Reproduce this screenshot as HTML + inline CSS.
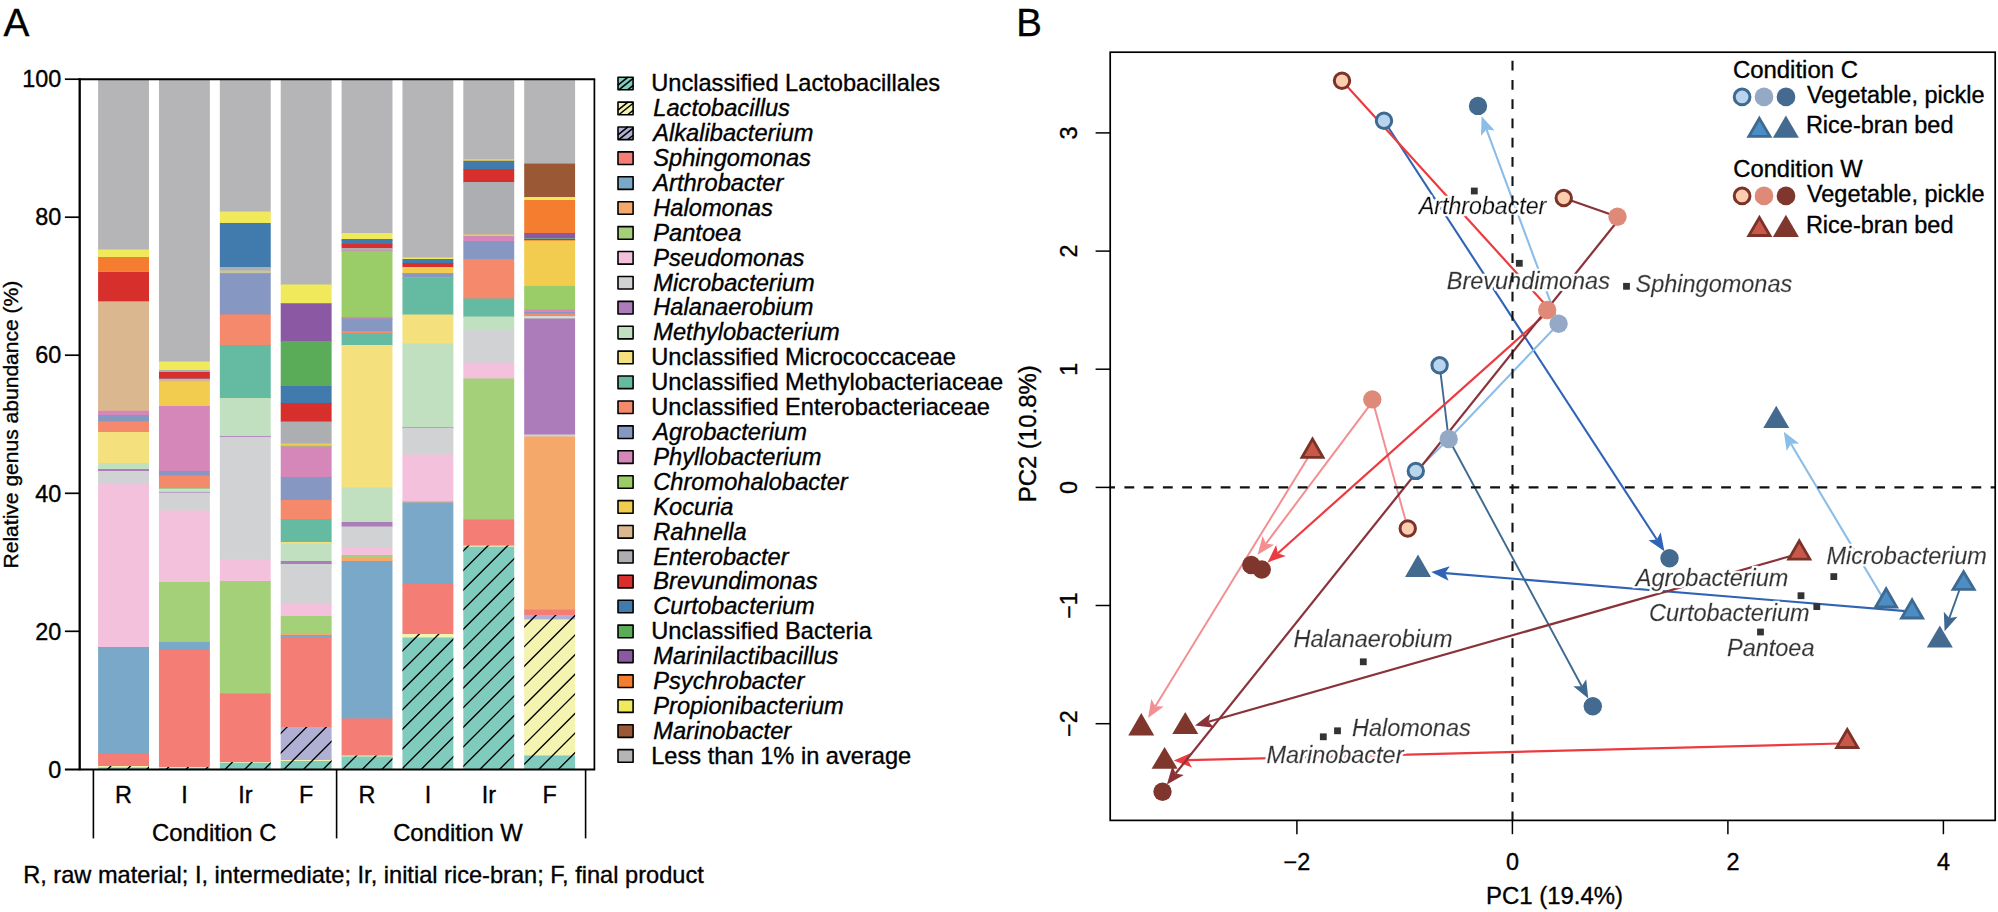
<!DOCTYPE html>
<html lang="en"><head><meta charset="utf-8"><title>Figure</title>
<style>html,body{margin:0;padding:0;background:#fff}svg{display:block}text{font-family:"Liberation Sans",Arial,Helvetica,sans-serif;fill:#000;stroke:#000;stroke-width:.35px}.it{font-style:italic}.gl{stroke-width:.35px;filter:url(#halo)}</style></head><body>
<svg width="1998" height="912" viewBox="0 0 1998 912">
<rect width="1998" height="912" fill="#fff"/>
<g id="panelA">
<text x="3.4" y="35.6" font-size="38.8">A</text>
<g>
<rect x="98.10" y="79.00" width="50.9" height="171.20" fill="#B5B5B7"/>
<rect x="98.10" y="249.50" width="50.9" height="8.20" fill="#F0E95B"/>
<rect x="98.10" y="257.00" width="50.9" height="14.70" fill="#F47D30"/>
<rect x="98.10" y="271.00" width="50.9" height="1.70" fill="#65BAA2"/>
<rect x="98.10" y="272.00" width="50.9" height="30.00" fill="#D72F2C"/>
<rect x="98.10" y="301.30" width="50.9" height="110.20" fill="#DBB790"/>
<rect x="98.10" y="410.80" width="50.9" height="4.90" fill="#D687BA"/>
<rect x="98.10" y="415.00" width="50.9" height="7.20" fill="#8698C2"/>
<rect x="98.10" y="421.50" width="50.9" height="11.20" fill="#F4896B"/>
<rect x="98.10" y="432.00" width="50.9" height="31.70" fill="#F4E07C"/>
<rect x="98.10" y="463.00" width="50.9" height="6.70" fill="#C1E0C0"/>
<rect x="98.10" y="469.00" width="50.9" height="2.70" fill="#AC7CBA"/>
<rect x="98.10" y="471.00" width="50.9" height="12.70" fill="#D1D2D4"/>
<rect x="98.10" y="483.00" width="50.9" height="164.70" fill="#F4C1DC"/>
<rect x="98.10" y="647.00" width="50.9" height="107.70" fill="#7AA8C8"/>
<rect x="98.10" y="754.00" width="50.9" height="12.70" fill="#F47D75"/>
<rect x="98.10" y="766.00" width="50.9" height="2.20" fill="#F5F3B0"/>
<rect x="98.10" y="767.50" width="50.9" height="1.80" fill="#7FCBBD"/>
<rect x="158.97" y="79.00" width="50.9" height="283.20" fill="#B5B5B7"/>
<rect x="158.97" y="361.50" width="50.9" height="9.20" fill="#F0E95B"/>
<rect x="158.97" y="370.00" width="50.9" height="2.70" fill="#ADAEB2"/>
<rect x="158.97" y="372.00" width="50.9" height="7.20" fill="#D72F2C"/>
<rect x="158.97" y="378.50" width="50.9" height="1.40" fill="#8698C2"/>
<rect x="158.97" y="379.20" width="50.9" height="3.00" fill="#DBB790"/>
<rect x="158.97" y="381.50" width="50.9" height="25.20" fill="#F2CC4E"/>
<rect x="158.97" y="406.00" width="50.9" height="65.70" fill="#D687BA"/>
<rect x="158.97" y="471.00" width="50.9" height="5.20" fill="#8698C2"/>
<rect x="158.97" y="475.50" width="50.9" height="13.20" fill="#F4896B"/>
<rect x="158.97" y="488.00" width="50.9" height="1.30" fill="#65BAA2"/>
<rect x="158.97" y="488.60" width="50.9" height="2.10" fill="#F4E07C"/>
<rect x="158.97" y="490.00" width="50.9" height="2.70" fill="#C1E0C0"/>
<rect x="158.97" y="492.00" width="50.9" height="1.30" fill="#AC7CBA"/>
<rect x="158.97" y="492.60" width="50.9" height="18.60" fill="#D1D2D4"/>
<rect x="158.97" y="510.50" width="50.9" height="72.20" fill="#F4C1DC"/>
<rect x="158.97" y="582.00" width="50.9" height="59.70" fill="#A4D07A"/>
<rect x="158.97" y="641.00" width="50.9" height="1.70" fill="#F4A96B"/>
<rect x="158.97" y="642.00" width="50.9" height="8.70" fill="#7AA8C8"/>
<rect x="158.97" y="650.00" width="50.9" height="117.70" fill="#F47D75"/>
<rect x="158.97" y="767.00" width="50.9" height="1.50" fill="#F5F3B0"/>
<rect x="158.97" y="767.80" width="50.9" height="1.50" fill="#7FCBBD"/>
<rect x="219.84" y="79.00" width="50.9" height="133.20" fill="#B5B5B7"/>
<rect x="219.84" y="211.50" width="50.9" height="12.20" fill="#F0E95B"/>
<rect x="219.84" y="223.00" width="50.9" height="44.70" fill="#417BAD"/>
<rect x="219.84" y="267.00" width="50.9" height="4.20" fill="#ADAEB2"/>
<rect x="219.84" y="270.50" width="50.9" height="3.20" fill="#C8C6A0"/>
<rect x="219.84" y="273.00" width="50.9" height="1.30" fill="#D687BA"/>
<rect x="219.84" y="273.60" width="50.9" height="41.50" fill="#8698C2"/>
<rect x="219.84" y="314.40" width="50.9" height="31.30" fill="#F4896B"/>
<rect x="219.84" y="345.00" width="50.9" height="53.70" fill="#65BAA2"/>
<rect x="219.84" y="398.00" width="50.9" height="38.70" fill="#C1E0C0"/>
<rect x="219.84" y="436.00" width="50.9" height="1.50" fill="#AC7CBA"/>
<rect x="219.84" y="436.80" width="50.9" height="122.90" fill="#D1D2D4"/>
<rect x="219.84" y="559.00" width="50.9" height="22.70" fill="#F4C1DC"/>
<rect x="219.84" y="581.00" width="50.9" height="113.20" fill="#A4D07A"/>
<rect x="219.84" y="693.50" width="50.9" height="69.20" fill="#F47D75"/>
<rect x="219.84" y="762.00" width="50.9" height="1.40" fill="#F5F3B0"/>
<rect x="219.84" y="762.70" width="50.9" height="6.60" fill="#7FCBBD"/>
<rect x="280.71" y="79.00" width="50.9" height="206.20" fill="#B5B5B7"/>
<rect x="280.71" y="284.50" width="50.9" height="19.20" fill="#F0E95B"/>
<rect x="280.71" y="303.00" width="50.9" height="1.40" fill="#F47D30"/>
<rect x="280.71" y="303.70" width="50.9" height="38.00" fill="#8B58A4"/>
<rect x="280.71" y="341.00" width="50.9" height="45.70" fill="#5BAC58"/>
<rect x="280.71" y="386.00" width="50.9" height="17.70" fill="#417BAD"/>
<rect x="280.71" y="403.00" width="50.9" height="19.20" fill="#D72F2C"/>
<rect x="280.71" y="421.50" width="50.9" height="22.70" fill="#ADAEB2"/>
<rect x="280.71" y="443.50" width="50.9" height="2.70" fill="#F2CC4E"/>
<rect x="280.71" y="445.50" width="50.9" height="1.70" fill="#9ACD68"/>
<rect x="280.71" y="446.50" width="50.9" height="31.20" fill="#D687BA"/>
<rect x="280.71" y="477.00" width="50.9" height="23.70" fill="#8698C2"/>
<rect x="280.71" y="500.00" width="50.9" height="19.70" fill="#F4896B"/>
<rect x="280.71" y="519.00" width="50.9" height="23.70" fill="#65BAA2"/>
<rect x="280.71" y="542.00" width="50.9" height="2.20" fill="#F4E07C"/>
<rect x="280.71" y="543.50" width="50.9" height="18.20" fill="#C1E0C0"/>
<rect x="280.71" y="561.00" width="50.9" height="3.70" fill="#AC7CBA"/>
<rect x="280.71" y="564.00" width="50.9" height="40.20" fill="#D1D2D4"/>
<rect x="280.71" y="603.50" width="50.9" height="13.20" fill="#F4C1DC"/>
<rect x="280.71" y="616.00" width="50.9" height="18.20" fill="#A4D07A"/>
<rect x="280.71" y="633.50" width="50.9" height="2.20" fill="#F4A96B"/>
<rect x="280.71" y="635.00" width="50.9" height="2.70" fill="#7AA8C8"/>
<rect x="280.71" y="637.00" width="50.9" height="90.70" fill="#F47D75"/>
<rect x="280.71" y="727.00" width="50.9" height="33.70" fill="#B0B0D5"/>
<rect x="280.71" y="760.00" width="50.9" height="1.70" fill="#F5F3B0"/>
<rect x="280.71" y="761.00" width="50.9" height="8.30" fill="#7FCBBD"/>
<rect x="341.58" y="79.00" width="50.9" height="154.70" fill="#B5B5B7"/>
<rect x="341.58" y="233.00" width="50.9" height="6.70" fill="#F0E95B"/>
<rect x="341.58" y="239.00" width="50.9" height="1.70" fill="#8B58A4"/>
<rect x="341.58" y="240.00" width="50.9" height="4.70" fill="#417BAD"/>
<rect x="341.58" y="244.00" width="50.9" height="4.70" fill="#D72F2C"/>
<rect x="341.58" y="248.00" width="50.9" height="3.00" fill="#ADAEB2"/>
<rect x="341.58" y="250.30" width="50.9" height="1.30" fill="#D687BA"/>
<rect x="341.58" y="250.90" width="50.9" height="66.80" fill="#9ACD68"/>
<rect x="341.58" y="317.00" width="50.9" height="2.20" fill="#D687BA"/>
<rect x="341.58" y="318.50" width="50.9" height="13.20" fill="#8698C2"/>
<rect x="341.58" y="331.00" width="50.9" height="2.70" fill="#F4896B"/>
<rect x="341.58" y="333.00" width="50.9" height="12.70" fill="#65BAA2"/>
<rect x="341.58" y="345.00" width="50.9" height="143.20" fill="#F4E07C"/>
<rect x="341.58" y="487.50" width="50.9" height="35.20" fill="#C1E0C0"/>
<rect x="341.58" y="522.00" width="50.9" height="5.20" fill="#AC7CBA"/>
<rect x="341.58" y="526.50" width="50.9" height="21.70" fill="#D1D2D4"/>
<rect x="341.58" y="547.50" width="50.9" height="8.20" fill="#F4C1DC"/>
<rect x="341.58" y="555.00" width="50.9" height="2.70" fill="#A4D07A"/>
<rect x="341.58" y="557.00" width="50.9" height="4.70" fill="#F4A96B"/>
<rect x="341.58" y="561.00" width="50.9" height="158.20" fill="#7AA8C8"/>
<rect x="341.58" y="718.50" width="50.9" height="37.70" fill="#F47D75"/>
<rect x="341.58" y="755.50" width="50.9" height="1.70" fill="#F5F3B0"/>
<rect x="341.58" y="756.50" width="50.9" height="12.80" fill="#7FCBBD"/>
<rect x="402.45" y="79.00" width="50.9" height="179.20" fill="#B5B5B7"/>
<rect x="402.45" y="257.50" width="50.9" height="2.20" fill="#F0E95B"/>
<rect x="402.45" y="259.00" width="50.9" height="4.70" fill="#417BAD"/>
<rect x="402.45" y="263.00" width="50.9" height="4.70" fill="#D72F2C"/>
<rect x="402.45" y="267.00" width="50.9" height="6.70" fill="#F2CC4E"/>
<rect x="402.45" y="273.00" width="50.9" height="1.30" fill="#D687BA"/>
<rect x="402.45" y="273.60" width="50.9" height="4.10" fill="#8698C2"/>
<rect x="402.45" y="277.00" width="50.9" height="1.70" fill="#F4896B"/>
<rect x="402.45" y="278.00" width="50.9" height="37.20" fill="#65BAA2"/>
<rect x="402.45" y="314.50" width="50.9" height="29.70" fill="#F4E07C"/>
<rect x="402.45" y="343.50" width="50.9" height="84.20" fill="#C1E0C0"/>
<rect x="402.45" y="427.00" width="50.9" height="1.30" fill="#AC7CBA"/>
<rect x="402.45" y="427.60" width="50.9" height="27.60" fill="#D1D2D4"/>
<rect x="402.45" y="454.50" width="50.9" height="47.20" fill="#F4C1DC"/>
<rect x="402.45" y="501.00" width="50.9" height="2.20" fill="#DBB790"/>
<rect x="402.45" y="502.50" width="50.9" height="82.20" fill="#7AA8C8"/>
<rect x="402.45" y="584.00" width="50.9" height="50.70" fill="#F47D75"/>
<rect x="402.45" y="634.00" width="50.9" height="4.20" fill="#F5F3B0"/>
<rect x="402.45" y="637.50" width="50.9" height="131.80" fill="#7FCBBD"/>
<rect x="463.32" y="79.00" width="50.9" height="80.70" fill="#B5B5B7"/>
<rect x="463.32" y="159.00" width="50.9" height="2.50" fill="#F2CC4E"/>
<rect x="463.32" y="160.80" width="50.9" height="8.90" fill="#417BAD"/>
<rect x="463.32" y="169.00" width="50.9" height="13.70" fill="#D72F2C"/>
<rect x="463.32" y="182.00" width="50.9" height="53.20" fill="#ADAEB2"/>
<rect x="463.32" y="234.50" width="50.9" height="2.20" fill="#F2CC4E"/>
<rect x="463.32" y="236.00" width="50.9" height="5.70" fill="#D687BA"/>
<rect x="463.32" y="241.00" width="50.9" height="18.70" fill="#8698C2"/>
<rect x="463.32" y="259.00" width="50.9" height="40.20" fill="#F4896B"/>
<rect x="463.32" y="298.50" width="50.9" height="18.70" fill="#65BAA2"/>
<rect x="463.32" y="316.50" width="50.9" height="13.70" fill="#C1E0C0"/>
<rect x="463.32" y="329.50" width="50.9" height="33.70" fill="#D1D2D4"/>
<rect x="463.32" y="362.50" width="50.9" height="16.70" fill="#F4C1DC"/>
<rect x="463.32" y="378.50" width="50.9" height="141.70" fill="#A4D07A"/>
<rect x="463.32" y="519.50" width="50.9" height="26.80" fill="#F47D75"/>
<rect x="463.32" y="545.60" width="50.9" height="1.80" fill="#F5F3B0"/>
<rect x="463.32" y="546.70" width="50.9" height="222.60" fill="#7FCBBD"/>
<rect x="524.19" y="79.00" width="50.9" height="85.30" fill="#B5B5B7"/>
<rect x="524.19" y="163.60" width="50.9" height="34.10" fill="#9A5834"/>
<rect x="524.19" y="197.00" width="50.9" height="3.70" fill="#F0E95B"/>
<rect x="524.19" y="200.00" width="50.9" height="33.70" fill="#F47D30"/>
<rect x="524.19" y="233.00" width="50.9" height="5.70" fill="#8B58A4"/>
<rect x="524.19" y="238.00" width="50.9" height="1.50" fill="#65BAA2"/>
<rect x="524.19" y="238.80" width="50.9" height="2.20" fill="#D72F2C"/>
<rect x="524.19" y="240.30" width="50.9" height="46.40" fill="#F2CC4E"/>
<rect x="524.19" y="286.00" width="50.9" height="24.20" fill="#9ACD68"/>
<rect x="524.19" y="309.50" width="50.9" height="3.20" fill="#D687BA"/>
<rect x="524.19" y="312.00" width="50.9" height="2.20" fill="#8698C2"/>
<rect x="524.19" y="313.50" width="50.9" height="3.20" fill="#F4896B"/>
<rect x="524.19" y="316.00" width="50.9" height="1.70" fill="#D1D2D4"/>
<rect x="524.19" y="317.00" width="50.9" height="1.70" fill="#F4E07C"/>
<rect x="524.19" y="318.00" width="50.9" height="1.20" fill="#C1E0C0"/>
<rect x="524.19" y="318.50" width="50.9" height="116.70" fill="#AC7CBA"/>
<rect x="524.19" y="434.50" width="50.9" height="2.70" fill="#D1D2D4"/>
<rect x="524.19" y="436.50" width="50.9" height="173.20" fill="#F4A96B"/>
<rect x="524.19" y="609.00" width="50.9" height="1.70" fill="#ADAEB2"/>
<rect x="524.19" y="610.00" width="50.9" height="5.70" fill="#F47D75"/>
<rect x="524.19" y="615.00" width="50.9" height="5.10" fill="#B0B0D5"/>
<rect x="524.19" y="619.40" width="50.9" height="136.80" fill="#F5F3B0"/>
<rect x="524.19" y="755.50" width="50.9" height="13.80" fill="#7FCBBD"/>
</g>
<defs><clipPath id="hc">
<rect x="98.10" y="766.00" width="50.9" height="1.50"/>
<rect x="98.10" y="767.50" width="50.9" height="1.80"/>
<rect x="158.97" y="767.00" width="50.9" height="0.80"/>
<rect x="158.97" y="767.80" width="50.9" height="1.50"/>
<rect x="219.84" y="762.00" width="50.9" height="0.70"/>
<rect x="219.84" y="762.70" width="50.9" height="6.60"/>
<rect x="280.71" y="727.00" width="50.9" height="33.00"/>
<rect x="280.71" y="760.00" width="50.9" height="1.00"/>
<rect x="280.71" y="761.00" width="50.9" height="8.30"/>
<rect x="341.58" y="755.50" width="50.9" height="1.00"/>
<rect x="341.58" y="756.50" width="50.9" height="12.80"/>
<rect x="402.45" y="634.00" width="50.9" height="3.50"/>
<rect x="402.45" y="637.50" width="50.9" height="131.80"/>
<rect x="463.32" y="545.60" width="50.9" height="1.10"/>
<rect x="463.32" y="546.70" width="50.9" height="222.60"/>
<rect x="524.19" y="615.00" width="50.9" height="4.40"/>
<rect x="524.19" y="619.40" width="50.9" height="136.10"/>
<rect x="524.19" y="755.50" width="50.9" height="13.80"/>
</clipPath></defs>
<g clip-path="url(#hc)" stroke="#000" stroke-width="1.35" fill="none">
<path d="M57.7 780L337.7 500M77.3 780L357.3 500M96.9 780L376.9 500M116.5 780L396.5 500M136.1 780L416.1 500M155.7 780L435.7 500M175.3 780L455.3 500M194.9 780L474.9 500M214.5 780L494.5 500M234.1 780L514.1 500M253.7 780L533.7 500M273.3 780L553.3 500M292.9 780L572.9 500M312.5 780L592.5 500M332.1 780L612.1 500M351.7 780L631.7 500M371.3 780L651.3 500M390.9 780L670.9 500M410.5 780L690.5 500M430.1 780L710.1 500M449.7 780L729.7 500M469.3 780L749.3 500M488.9 780L768.9 500M508.5 780L788.5 500M528.1 780L808.1 500M547.7 780L827.7 500M567.3 780L847.3 500M586.9 780L866.9 500M606.5 780L886.5 500M626.1 780L906.1 500M645.7 780L925.7 500M665.3 780L945.3 500"/>
</g>
<g stroke="#000" fill="none" stroke-linecap="butt">
<path d="M79.7 770.3V78.3" stroke-width="2.3"/>
<path d="M78.6 79.2H595.2" stroke-width="1.9"/>
<path d="M594.4 79.2V769.3" stroke-width="1.7"/>
<path d="M64.9 769.4H595.2" stroke-width="2"/>
<path d="M64.9 79.2H79.6" stroke-width="1.7"/>
<path d="M64.9 217.2H79.6" stroke-width="1.7"/>
<path d="M64.9 355.2H79.6" stroke-width="1.7"/>
<path d="M64.9 493.3H79.6" stroke-width="1.7"/>
<path d="M64.9 631.3H79.6" stroke-width="1.7"/>
<path d="M93.4 769.3V838.4" stroke-width="1.6"/>
<path d="M336.6 769.3V838.4" stroke-width="1.6"/>
<path d="M585.6 769.3V838.4" stroke-width="1.6"/>
</g>
<text x="61.3" y="86.9" font-size="23.4" text-anchor="end">100</text>
<text x="61.3" y="225.2" font-size="23.4" text-anchor="end">80</text>
<text x="61.3" y="363.4" font-size="23.4" text-anchor="end">60</text>
<text x="61.3" y="501.7" font-size="23.4" text-anchor="end">40</text>
<text x="61.3" y="639.9" font-size="23.4" text-anchor="end">20</text>
<text x="61.3" y="778.2" font-size="23.4" text-anchor="end">0</text>
<text transform="translate(18.2 424.6) rotate(-90)" font-size="21.05" text-anchor="middle">Relative genus abundance (%)</text>
<text x="123.5" y="803.1" font-size="23.4" text-anchor="middle">R</text>
<text x="184.4" y="803.1" font-size="23.4" text-anchor="middle">I</text>
<text x="245.3" y="803.1" font-size="23.4" text-anchor="middle">Ir</text>
<text x="306.2" y="803.1" font-size="23.4" text-anchor="middle">F</text>
<text x="367.0" y="803.1" font-size="23.4" text-anchor="middle">R</text>
<text x="427.9" y="803.1" font-size="23.4" text-anchor="middle">I</text>
<text x="488.8" y="803.1" font-size="23.4" text-anchor="middle">Ir</text>
<text x="549.6" y="803.1" font-size="23.4" text-anchor="middle">F</text>
<text x="214.2" y="840.6" font-size="23.8" text-anchor="middle">Condition C</text>
<text x="458" y="840.6" font-size="23.8" text-anchor="middle">Condition W</text>
<text x="23.2" y="883.4" font-size="23.6">R, raw material; I, intermediate; Ir, initial rice-bran; F, final product</text>
<g id="legendA">
<rect x="618.00" y="77.20" width="15.1" height="12.6" fill="#7FCBBD" stroke="#000" stroke-width="1.6" stroke-linejoin="round"/>
<path d="M617.95 85.16L627.96 77.15M618.78 89.85L633.15 78.35M627.64 89.85L633.15 85.44" stroke="#000" stroke-width="1.55" fill="none"/>
<text x="651.2" y="91.30" font-size="23.63">Unclassified Lactobacillales</text>
<rect x="618.00" y="102.10" width="15.1" height="12.6" fill="#F5F3B0" stroke="#000" stroke-width="1.6" stroke-linejoin="round"/>
<path d="M617.95 110.06L627.96 102.05M618.78 114.75L633.15 103.25M627.64 114.75L633.15 110.34" stroke="#000" stroke-width="1.55" fill="none"/>
<text x="653.3" y="116.20" font-size="23.63" class="it">Lactobacillus</text>
<rect x="618.00" y="127.01" width="15.1" height="12.6" fill="#B0B0D5" stroke="#000" stroke-width="1.6" stroke-linejoin="round"/>
<path d="M617.95 134.97L627.96 126.96M618.78 139.66L633.15 128.16M627.64 139.66L633.15 135.25" stroke="#000" stroke-width="1.55" fill="none"/>
<text x="653.3" y="141.11" font-size="23.63" class="it">Alkalibacterium</text>
<rect x="618.00" y="151.91" width="15.1" height="12.6" fill="#F47D75" stroke="#000" stroke-width="1.6" stroke-linejoin="round"/>
<text x="653.3" y="166.01" font-size="23.63" class="it">Sphingomonas</text>
<rect x="618.00" y="176.82" width="15.1" height="12.6" fill="#7AA8C8" stroke="#000" stroke-width="1.6" stroke-linejoin="round"/>
<text x="653.3" y="190.92" font-size="23.63" class="it">Arthrobacter</text>
<rect x="618.00" y="201.72" width="15.1" height="12.6" fill="#F4A96B" stroke="#000" stroke-width="1.6" stroke-linejoin="round"/>
<text x="653.3" y="215.82" font-size="23.63" class="it">Halomonas</text>
<rect x="618.00" y="226.63" width="15.1" height="12.6" fill="#A4D07A" stroke="#000" stroke-width="1.6" stroke-linejoin="round"/>
<text x="653.3" y="240.73" font-size="23.63" class="it">Pantoea</text>
<rect x="618.00" y="251.53" width="15.1" height="12.6" fill="#F4C1DC" stroke="#000" stroke-width="1.6" stroke-linejoin="round"/>
<text x="653.3" y="265.63" font-size="23.63" class="it">Pseudomonas</text>
<rect x="618.00" y="276.44" width="15.1" height="12.6" fill="#D1D2D4" stroke="#000" stroke-width="1.6" stroke-linejoin="round"/>
<text x="653.3" y="290.54" font-size="23.63" class="it">Microbacterium</text>
<rect x="618.00" y="301.35" width="15.1" height="12.6" fill="#AC7CBA" stroke="#000" stroke-width="1.6" stroke-linejoin="round"/>
<text x="653.3" y="315.44" font-size="23.63" class="it">Halanaerobium</text>
<rect x="618.00" y="326.25" width="15.1" height="12.6" fill="#C1E0C0" stroke="#000" stroke-width="1.6" stroke-linejoin="round"/>
<text x="653.3" y="340.35" font-size="23.63" class="it">Methylobacterium</text>
<rect x="618.00" y="351.16" width="15.1" height="12.6" fill="#F4E07C" stroke="#000" stroke-width="1.6" stroke-linejoin="round"/>
<text x="651.2" y="365.26" font-size="23.63">Unclassified Micrococcaceae</text>
<rect x="618.00" y="376.06" width="15.1" height="12.6" fill="#65BAA2" stroke="#000" stroke-width="1.6" stroke-linejoin="round"/>
<text x="651.2" y="390.16" font-size="23.63">Unclassified Methylobacteriaceae</text>
<rect x="618.00" y="400.97" width="15.1" height="12.6" fill="#F4896B" stroke="#000" stroke-width="1.6" stroke-linejoin="round"/>
<text x="651.2" y="415.06" font-size="23.63">Unclassified Enterobacteriaceae</text>
<rect x="618.00" y="425.87" width="15.1" height="12.6" fill="#8698C2" stroke="#000" stroke-width="1.6" stroke-linejoin="round"/>
<text x="653.3" y="439.97" font-size="23.63" class="it">Agrobacterium</text>
<rect x="618.00" y="450.78" width="15.1" height="12.6" fill="#D687BA" stroke="#000" stroke-width="1.6" stroke-linejoin="round"/>
<text x="653.3" y="464.88" font-size="23.63" class="it">Phyllobacterium</text>
<rect x="618.00" y="475.68" width="15.1" height="12.6" fill="#9ACD68" stroke="#000" stroke-width="1.6" stroke-linejoin="round"/>
<text x="653.3" y="489.78" font-size="23.63" class="it">Chromohalobacter</text>
<rect x="618.00" y="500.58" width="15.1" height="12.6" fill="#F2CC4E" stroke="#000" stroke-width="1.6" stroke-linejoin="round"/>
<text x="653.3" y="514.68" font-size="23.63" class="it">Kocuria</text>
<rect x="618.00" y="525.49" width="15.1" height="12.6" fill="#DBB790" stroke="#000" stroke-width="1.6" stroke-linejoin="round"/>
<text x="653.3" y="539.59" font-size="23.63" class="it">Rahnella</text>
<rect x="618.00" y="550.39" width="15.1" height="12.6" fill="#ADAEB2" stroke="#000" stroke-width="1.6" stroke-linejoin="round"/>
<text x="653.3" y="564.50" font-size="23.63" class="it">Enterobacter</text>
<rect x="618.00" y="575.30" width="15.1" height="12.6" fill="#D72F2C" stroke="#000" stroke-width="1.6" stroke-linejoin="round"/>
<text x="653.3" y="589.40" font-size="23.63" class="it">Brevundimonas</text>
<rect x="618.00" y="600.20" width="15.1" height="12.6" fill="#417BAD" stroke="#000" stroke-width="1.6" stroke-linejoin="round"/>
<text x="653.3" y="614.30" font-size="23.63" class="it">Curtobacterium</text>
<rect x="618.00" y="625.11" width="15.1" height="12.6" fill="#5BAC58" stroke="#000" stroke-width="1.6" stroke-linejoin="round"/>
<text x="651.2" y="639.21" font-size="23.63">Unclassified Bacteria</text>
<rect x="618.00" y="650.01" width="15.1" height="12.6" fill="#8B58A4" stroke="#000" stroke-width="1.6" stroke-linejoin="round"/>
<text x="653.3" y="664.12" font-size="23.63" class="it">Marinilactibacillus</text>
<rect x="618.00" y="674.92" width="15.1" height="12.6" fill="#F47D30" stroke="#000" stroke-width="1.6" stroke-linejoin="round"/>
<text x="653.3" y="689.02" font-size="23.63" class="it">Psychrobacter</text>
<rect x="618.00" y="699.82" width="15.1" height="12.6" fill="#F0E95B" stroke="#000" stroke-width="1.6" stroke-linejoin="round"/>
<text x="653.3" y="713.92" font-size="23.63" class="it">Propionibacterium</text>
<rect x="618.00" y="724.73" width="15.1" height="12.6" fill="#9A5834" stroke="#000" stroke-width="1.6" stroke-linejoin="round"/>
<text x="653.3" y="738.83" font-size="23.63" class="it">Marinobacter</text>
<rect x="618.00" y="749.63" width="15.1" height="12.6" fill="#B5B5B7" stroke="#000" stroke-width="1.6" stroke-linejoin="round"/>
<text x="651.2" y="763.74" font-size="23.63">Less than 1% in average</text>
</g>
</g>
<g id="panelB">
<defs><filter id="halo" x="-5%" y="-25%" width="110%" height="150%"><feMorphology in="SourceAlpha" operator="dilate" radius="1.5" result="d"/><feFlood flood-color="#fff" result="f"/><feComposite in="f" in2="d" operator="in" result="h"/><feMerge><feMergeNode in="h"/><feMergeNode in="SourceGraphic"/></feMerge></filter></defs>
<text x="1016.2" y="35.7" font-size="38.4">B</text>
<path d="M1384.0 120.8L1656.8 539.5" stroke="#2F63B5" stroke-width="2.1" fill="none"/>
<path d="M1664.4 551.2L1648.5 540.2L1656.8 539.5L1660.7 532.2Z" fill="#2F63B5"/>
<path d="M1415.8 470.9L1448.7 439.0L1558.6 323.8" stroke="#8BBDE9" stroke-width="2.1" fill="none" stroke-linejoin="round"/>
<path d="M1558.6 323.8L1486.5 129.4" stroke="#8BBDE9" stroke-width="2.1" fill="none"/>
<path d="M1481.6 116.3L1494.7 130.6L1486.5 129.4L1481.0 135.7Z" fill="#8BBDE9"/>
<path d="M1439.6 365.3L1448.7 439.0" stroke="#3E6990" stroke-width="1.9" fill="none" stroke-linejoin="round"/>
<path d="M1448.7 439.0L1581.7 686.3" stroke="#3E6990" stroke-width="1.9" fill="none"/>
<path d="M1588.3 698.6L1573.3 686.2L1581.7 686.3L1586.2 679.3Z" fill="#3E6990"/>
<path d="M1912.0 611.6L1445.2 573.1" stroke="#2F63B5" stroke-width="2.1" fill="none"/>
<path d="M1431.2 572.0L1449.8 566.2L1445.2 573.1L1448.6 580.8Z" fill="#2F63B5"/>
<path d="M1883.5 599.0L1790.9 443.8" stroke="#8BBDE9" stroke-width="2.1" fill="none"/>
<path d="M1783.8 431.8L1799.2 443.5L1790.9 443.8L1786.7 450.9Z" fill="#8BBDE9"/>
<path d="M1959.4 590.0L1949.3 618.1" stroke="#3E6990" stroke-width="1.9" fill="none"/>
<path d="M1944.6 631.2L1943.8 611.8L1949.3 618.1L1957.5 616.8Z" fill="#3E6990"/>
<path d="M1407.8 528.5L1372.3 399.4" stroke="#F38F92" stroke-width="2.0" fill="none" stroke-linejoin="round"/>
<path d="M1374.2 399.4L1266.0 543.6" stroke="#F38F92" stroke-width="2.0" fill="none"/>
<path d="M1257.6 554.8L1262.6 536.0L1266.0 543.6L1274.2 544.8Z" fill="#F38F92"/>
<path d="M1312.5 450.2L1155.4 706.2" stroke="#F38F92" stroke-width="2.0" fill="none"/>
<path d="M1148.1 718.1L1151.3 698.9L1155.4 706.2L1163.7 706.6Z" fill="#F38F92"/>
<path d="M1342.0 80.8L1550.3 310.0" stroke="#EB3B40" stroke-width="2.2" fill="none" stroke-linejoin="round"/>
<path d="M1550.3 310.0L1277.9 553.2" stroke="#EB3B40" stroke-width="2.2" fill="none"/>
<path d="M1267.5 562.5L1276.1 545.1L1277.9 553.2L1285.8 556.0Z" fill="#EB3B40"/>
<path d="M1840.0 743.5L1187.8 760.2" stroke="#EB3B40" stroke-width="2.2" fill="none"/>
<path d="M1173.8 760.6L1191.6 752.8L1187.8 760.2L1192.0 767.4Z" fill="#EB3B40"/>
<path d="M1563.8 198.0L1617.5 216.8" stroke="#8A3239" stroke-width="2.2" fill="none" stroke-linejoin="round"/>
<path d="M1620.8 217.0L1175.6 773.5" stroke="#8A3239" stroke-width="2.2" fill="none"/>
<path d="M1166.9 784.4L1172.4 765.8L1175.6 773.5L1183.8 774.9Z" fill="#8A3239"/>
<path d="M1790.0 556.3L1208.5 721.8" stroke="#8A3239" stroke-width="2.2" fill="none"/>
<path d="M1195.0 725.6L1210.3 713.7L1208.5 721.8L1214.3 727.7Z" fill="#8A3239"/>
<text x="1418.9" y="213.6" font-size="23.15" class="it gl" style="fill:#111;stroke:#111">Arthrobacter</text>
<text x="1446.8" y="289.4" font-size="23.48" class="it gl" style="fill:#333;stroke:#333">Brevundimonas</text>
<text x="1635.6" y="292.1" font-size="23.48" class="it gl" style="fill:#333;stroke:#333">Sphingomonas</text>
<text x="1293.5" y="647.2" font-size="23.48" class="it gl" style="fill:#333;stroke:#333">Halanaerobium</text>
<text x="1352" y="736.3" font-size="23.48" class="it gl" style="fill:#333;stroke:#333">Halomonas</text>
<text x="1266.5" y="762.6" font-size="23.48" class="it gl" style="fill:#333;stroke:#333">Marinobacter</text>
<text x="1826.5" y="563.8" font-size="23.48" class="it gl" style="fill:#333;stroke:#333">Microbacterium</text>
<text x="1635.8" y="586.4" font-size="23.48" class="it gl" style="fill:#333;stroke:#333">Agrobacterium</text>
<text x="1649.1" y="621.4" font-size="23.48" class="it gl" style="fill:#333;stroke:#333">Curtobacterium</text>
<text x="1727" y="655.8" font-size="23.48" class="it gl" style="fill:#333;stroke:#333">Pantoea</text>
<g stroke="#111" stroke-width="2.1" fill="none">
<path d="M1105.15 487.4H1995.2" stroke-dasharray="9.85 9.4"/>
<path d="M1512.5 60.75V820.4" stroke-dasharray="9.85 9.4"/>
</g>
<rect x="1100" y="485" width="9.3" height="5" fill="#fff"/>
<circle cx="1384" cy="120.75" r="7.70" fill="#B9D4EE" stroke="#3E6990" stroke-width="3"/>
<circle cx="1439.6" cy="365.3" r="7.70" fill="#B9D4EE" stroke="#3E6990" stroke-width="3"/>
<circle cx="1415.8" cy="470.9" r="7.70" fill="#B9D4EE" stroke="#3E6990" stroke-width="3"/>
<circle cx="1617.5" cy="216.75" r="9.2" fill="#DF8A79"/>
<circle cx="1547.2" cy="310" r="9.2" fill="#DF8A79"/>
<circle cx="1372.3" cy="399.4" r="9.2" fill="#DF8A79"/>
<circle cx="1558.6" cy="323.75" r="9.2" fill="#94A9C6"/>
<circle cx="1448.7" cy="439" r="9.2" fill="#94A9C6"/>
<circle cx="1478" cy="105.9" r="9.2" fill="#446B8F"/>
<circle cx="1669.5" cy="558.25" r="9.2" fill="#446B8F"/>
<circle cx="1592.8" cy="706.25" r="9.2" fill="#446B8F"/>
<circle cx="1342" cy="80.75" r="7.70" fill="#FCCDAE" stroke="#7B3327" stroke-width="3"/>
<circle cx="1563.75" cy="198" r="7.70" fill="#FCCDAE" stroke="#7B3327" stroke-width="3"/>
<circle cx="1407.75" cy="528.5" r="7.70" fill="#FCCDAE" stroke="#7B3327" stroke-width="3"/>
<circle cx="1251.25" cy="565" r="9.2" fill="#7E362D"/>
<circle cx="1261.75" cy="569.5" r="9.2" fill="#7E362D"/>
<circle cx="1162.5" cy="791.75" r="9.2" fill="#7E362D"/>
<path d="M1886.1 588.75L1896.65 607.00H1875.55Z" fill="#4C8DC6" stroke="#3E6990" stroke-width="2.8" stroke-linejoin="miter"/>
<path d="M1912.1 599.85L1922.65 618.00H1901.55Z" fill="#4C8DC6" stroke="#3E6990" stroke-width="2.8" stroke-linejoin="miter"/>
<path d="M1963.6 571.75L1974.15 589.30H1953.05Z" fill="#4C8DC6" stroke="#3E6990" stroke-width="2.8" stroke-linejoin="miter"/>
<path d="M1776.25 405.75L1789.25 428H1763.25Z" fill="#446B8F"/>
<path d="M1418 554.5L1431.0 577H1405.0Z" fill="#446B8F"/>
<path d="M1939.8 625.6L1952.8 647.6H1926.8Z" fill="#446B8F"/>
<path d="M1312.5 439.00L1323.05 457.35H1301.95Z" fill="#C9574A" stroke="#7B3327" stroke-width="2.8" stroke-linejoin="miter"/>
<path d="M1799.3 540.85L1809.85 559.10H1788.75Z" fill="#C9574A" stroke="#7B3327" stroke-width="2.8" stroke-linejoin="miter"/>
<path d="M1847.25 729.50L1857.80 747.50H1836.70Z" fill="#C9574A" stroke="#7B3327" stroke-width="2.8" stroke-linejoin="miter"/>
<path d="M1141.25 713.1L1154.25 735.6H1128.25Z" fill="#7E362D"/>
<path d="M1185.25 711.9L1198.25 734H1172.25Z" fill="#7E362D"/>
<path d="M1164.6 746.9L1177.6 768.8H1151.6Z" fill="#7E362D"/>
<rect x="1470.90" y="187.60" width="6.8" height="6.8" fill="#333"/>
<rect x="1515.90" y="259.90" width="6.8" height="6.8" fill="#333"/>
<rect x="1623.10" y="282.90" width="6.8" height="6.8" fill="#333"/>
<rect x="1359.90" y="658.40" width="6.8" height="6.8" fill="#333"/>
<rect x="1334.10" y="727.40" width="6.8" height="6.8" fill="#333"/>
<rect x="1319.90" y="733.40" width="6.8" height="6.8" fill="#333"/>
<rect x="1830.40" y="573.20" width="6.8" height="6.8" fill="#333"/>
<rect x="1797.60" y="592.30" width="6.8" height="6.8" fill="#333"/>
<rect x="1813.40" y="603.20" width="6.8" height="6.8" fill="#333"/>
<rect x="1757.10" y="628.60" width="6.8" height="6.8" fill="#333"/>
<g stroke="#000" fill="none">
<rect x="1110.2" y="52.2" width="885.0" height="768.2" stroke-width="1.7"/>
<path d="M1296.9 820.4V834.2" stroke-width="1.5"/>
<path d="M1512.4 820.4V834.2" stroke-width="1.5"/>
<path d="M1727.9 820.4V834.2" stroke-width="1.5"/>
<path d="M1943.4 820.4V834.2" stroke-width="1.5"/>
<path d="M1095.6 723.7H1110.2" stroke-width="1.5"/>
<path d="M1095.6 605.5H1110.2" stroke-width="1.5"/>
<path d="M1095.6 487.4H1110.2" stroke-width="1.5"/>
<path d="M1095.6 369.2H1110.2" stroke-width="1.5"/>
<path d="M1095.6 251.1H1110.2" stroke-width="1.5"/>
<path d="M1095.6 132.9H1110.2" stroke-width="1.5"/>
</g>
<text x="1296.9" y="869.6" font-size="23.4" text-anchor="middle">−2</text>
<text x="1512.4" y="869.6" font-size="23.4" text-anchor="middle">0</text>
<text x="1733.0" y="869.6" font-size="23.4" text-anchor="middle">2</text>
<text x="1943.4" y="869.6" font-size="23.4" text-anchor="middle">4</text>
<text transform="translate(1076.9 723.7) rotate(-90)" font-size="23.4" text-anchor="middle">−2</text>
<text transform="translate(1076.9 605.5) rotate(-90)" font-size="23.4" text-anchor="middle">−1</text>
<text transform="translate(1076.9 487.4) rotate(-90)" font-size="23.4" text-anchor="middle">0</text>
<text transform="translate(1076.9 369.2) rotate(-90)" font-size="23.4" text-anchor="middle">1</text>
<text transform="translate(1076.9 251.1) rotate(-90)" font-size="23.4" text-anchor="middle">2</text>
<text transform="translate(1076.9 132.9) rotate(-90)" font-size="23.4" text-anchor="middle">3</text>
<text x="1554.5" y="903.8" font-size="23.95" text-anchor="middle">PC1 (19.4%)</text>
<text transform="translate(1036.4 433.8) rotate(-90)" font-size="23.95" text-anchor="middle">PC2 (10.8%)</text>
<g id="legendB">
<text x="1732.9" y="78.1" font-size="23.95">Condition C</text>
<circle cx="1742.1" cy="96.9" r="7.85" fill="#B9D4EE" stroke="#3E6990" stroke-width="3"/>
<circle cx="1764" cy="96.9" r="9.35" fill="#94A9C6"/>
<circle cx="1786" cy="96.9" r="9.35" fill="#446B8F"/>
<text x="1806.9" y="102.6" font-size="23.5">Vegetable, pickle</text>
<path d="M1759.4 118.35L1769.95 136.40H1748.85Z" fill="#4C8DC6" stroke="#3E6990" stroke-width="2.8" stroke-linejoin="miter"/>
<path d="M1785.9 115.6L1798.9 137.8H1772.9Z" fill="#446B8F"/>
<text x="1805.9" y="133.4" font-size="23.5">Rice-bran bed</text>
<text x="1733.3" y="176.9" font-size="23.75">Condition W</text>
<circle cx="1742.1" cy="195.9" r="7.85" fill="#FCCDAE" stroke="#7B3327" stroke-width="3"/>
<circle cx="1764" cy="195.9" r="9.35" fill="#DF8A79"/>
<circle cx="1786" cy="195.9" r="9.35" fill="#7E362D"/>
<text x="1806.9" y="201.6" font-size="23.5">Vegetable, pickle</text>
<path d="M1759.4 217.45L1769.95 235.50H1748.85Z" fill="#C9574A" stroke="#7B3327" stroke-width="2.8" stroke-linejoin="miter"/>
<path d="M1785.9 214.7L1798.9 236.9H1772.9Z" fill="#7E362D"/>
<text x="1805.9" y="232.5" font-size="23.5">Rice-bran bed</text>
</g>
</g>
</svg></body></html>
